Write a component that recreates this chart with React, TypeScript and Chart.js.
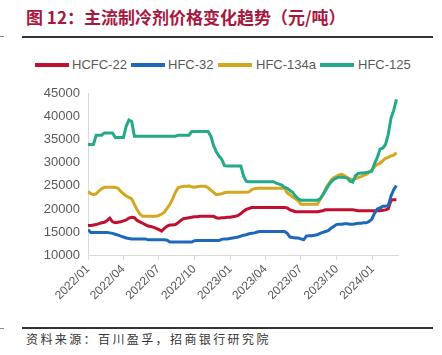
import { useEffect, useRef } from "react";
import { Chart, registerables } from "chart.js";

Chart.register(...registerables);

// ---- data ----
const startYear = 2022;
const weekStepDays = 7;
const tickLabels = ["2022/01", "2022/04", "2022/07", "2022/10", "2023/01", "2023/04", "2023/07", "2023/10", "2024/01"];
const seriesNames = ["HCFC-22", "HFC-32", "HFC-134a", "HFC-125"];
const seriesColors = ["#c00f2f", "#1e68bb", "#d4a71f", "#24a98a"];

const hcfc22 = [
  16400, 16400, 16500, 16600, 16800, 17000, 17100, 17500, 18000, 17200,
  17000, 17100, 17200, 17400, 17600, 18000, 18200, 18100, 17500, 17200,
  16900, 16600, 16300, 16200, 16000, 15800, 15500, 15200, 15800, 16300,
  16500, 16500, 16600, 17000, 17500, 17900, 18000, 18100, 18200, 18300,
  18300, 18400, 18400, 18400, 18400, 18400, 18400, 18100, 18000, 18100,
  18100, 18200, 18200, 18300, 18400, 18600, 19000, 19500, 19900, 20100,
  20300, 20300, 20300, 20300, 20300, 20300, 20300, 20300, 20300, 20300,
  20300, 20300, 20300, 20200, 19800, 19600, 19400, 19400, 19400, 19400,
  19400, 19400, 19400, 19400, 19400, 19500, 19600, 19800, 19800, 19800,
  19800, 19800, 19800, 19800, 19800, 19800, 19800, 19800, 19700, 19600,
  19600, 19600, 19600, 19600, 19600, 19600, 19600, 19600, 19700, 19800,
  20000, 21900, 22000, 22000,
];

const hfc32 = [
  15500, 14900, 14900, 14900, 14900, 14900, 14900, 14900, 14800, 14700,
  14500, 14300, 14100, 13900, 13700, 13600, 13500, 13500, 13500, 13500,
  13500, 13500, 13300, 13300, 13300, 13300, 13300, 13300, 13300, 13200,
  12800, 12800, 12800, 12800, 12800, 12800, 12800, 12800, 12800, 13100,
  13150, 13150, 13150, 13150, 13150, 13150, 13150, 13150, 13150, 13400,
  13500, 13500, 13600, 13700, 13800, 13900, 14100, 14300, 14400, 14600,
  14700, 14800, 15000, 15100, 15100, 15100, 15100, 15100, 15100, 15100,
  15100, 15100, 15100, 14700, 13900, 13800, 13700, 13700, 13500, 13300,
  14100, 14200, 14200, 14300, 14400, 14700, 14900, 15100, 15300, 15800,
  16200, 16600, 16700, 16700, 16800, 16800, 16700, 16700, 16800, 16900,
  16900, 17000, 17000, 17300, 17800, 19100, 20000, 20200, 20600, 20600,
  20700, 22800, 24200, 25100,
];

const hfc134a = [
  23800, 23300, 23100, 23300, 23900, 24400, 24700, 24700, 24700, 24700,
  24700, 24500, 23800, 23300, 22800, 22500, 22200, 21000, 19800, 18900,
  18400, 18400, 18400, 18400, 18400, 18400, 18600, 18900, 19300, 20200,
  21000, 22200, 23600, 24600, 24800, 24900, 24900, 25000, 24800, 24700,
  24800, 24900, 24900, 24900, 24600, 24100, 23600, 23100, 23200, 23300,
  23500, 23600, 23600, 23600, 23600, 23600, 23600, 23600, 23600, 23700,
  24200, 24400, 24500, 24500, 24500, 24500, 24500, 24500, 24500, 24500,
  24500, 24500, 24500, 23500, 23100, 22600, 22200, 21800, 21000, 21000,
  21000, 21000, 21000, 21000, 21000, 22000, 23000, 24300, 25300, 26200,
  26800, 27100, 27400, 27500, 27200, 26800, 26500, 26400, 26600, 26800,
  27000, 27300, 27500, 28000, 28500, 29200, 29700, 29900, 30500, 31000,
  31200, 31500, 31700, 32200,
];

const hfc125 = [
  34000, 34000, 34000, 36000, 36000, 36000, 36500, 36500, 36500, 36500,
  35500, 35500, 35500, 35500, 38000, 39300, 39000, 35800, 35800, 35800,
  35800, 35800, 35800, 35800, 35800, 35800, 35800, 35800, 35800, 35800,
  35800, 35800, 35800, 36000, 36000, 36000, 36000, 36000, 36800, 36800,
  36800, 36800, 36800, 36800, 36800, 35800, 33800, 32400, 31500, 30800,
  29400, 29300, 29300, 29300, 29300, 29300, 29300, 27100, 26000, 25900,
  25900, 25900, 25900, 25900, 25900, 25900, 25900, 25900, 25900, 25600,
  25400, 25200, 24700, 24500, 24000, 23600, 22800, 22200, 21900, 21900,
  21900, 21900, 21900, 21900, 21900, 22200, 23000, 24000, 25000, 25800,
  26400, 26700, 26900, 26900, 26800, 26700, 26000, 25800, 27200, 27700,
  27800, 27800, 27900, 28000, 28200, 29900, 31200, 33000, 33200, 34000,
  36200, 39700, 41400, 43800,
];

const seriesValues = [hcfc22, hfc32, hfc134a, hfc125];

const FONT = "'Liberation Sans', Arial, sans-serif";
const CJK = "'Noto Sans CJK SC', 'Noto Sans', sans-serif";
const GRAY = "#595959";

function dayOffset(label: string): number {
  const [y, m] = label.split("/").map(Number);
  return (Date.UTC(y, m - 1, 1) - Date.UTC(startYear, 0, 1)) / 86400000;
}

const legendPos = [
  { line: 35, text: 72 },
  { line: 131, text: 168 },
  { line: 218, text: 256 },
  { line: 320, text: 358 },
];

export default function App() {
  const ref = useRef<HTMLCanvasElement>(null);

  useEffect(() => {
    const tickDays = tickLabels.map(dayOffset);
    const chart = new Chart(ref.current!, {
      type: "line",
      data: {
        datasets: seriesValues.map((vals, k) => ({
          label: seriesNames[k],
          data: vals.map((v, i) => ({ x: i * weekStepDays, y: v })),
          borderColor: seriesColors[k],
          backgroundColor: seriesColors[k],
          borderWidth: 3,
          pointRadius: 0,
          tension: 0,
          order: seriesValues.length - k,
        })),
      },
      options: {
        responsive: false,
        animation: false,
        layout: { padding: { left: 0, right: 44, top: 10, bottom: 0 } },
        plugins: { legend: { display: false }, tooltip: { enabled: false } },
        scales: {
          x: {
            type: "linear",
            min: 0,
            max: 795,
            afterBuildTicks: (s: any) => {
              s.ticks = tickDays.map((v) => ({ value: v }));
            },
            afterFit: (s: any) => {
              s.height = 65;
            },
            ticks: {
              autoSkip: false,
              minRotation: 45,
              maxRotation: 45,
              padding: 2,
              color: GRAY,
              font: { family: FONT, size: 12 },
              callback: (v: any) => {
                const idx = tickDays.indexOf(Number(v));
                return idx >= 0 ? tickLabels[idx] : "";
              },
            },
            grid: { display: true, drawOnChartArea: false, drawTicks: true, tickLength: 5, color: "#d9d9d9" },
            border: { display: true, color: "#d9d9d9" },
          },
          y: {
            min: 10000,
            max: 45000,
            afterFit: (s: any) => {
              s.width = 88;
            },
            ticks: {
              stepSize: 5000,
              padding: 8,
              color: GRAY,
              font: { family: FONT, size: 13 },
              callback: (v: any) => String(v),
            },
            grid: { display: false, drawTicks: false },
            border: { display: true, color: "#d9d9d9" },
          },
        },
      },
    } as any);
    return () => chart.destroy();
  }, []);

  return (
    <div style={{ position: "absolute", left: 0, top: 0, width: 442, height: 355, background: "#fff", overflow: "hidden" }}>
      <div
        style={{
          position: "absolute",
          left: 26,
          top: 7,
          fontFamily: CJK,
          fontSize: 17,
          lineHeight: "20px",
          fontWeight: 700,
          color: "#a8173e",
          whiteSpace: "nowrap",
        }}
      >
        图 12：主流制冷剂价格变化趋势（元/吨）
      </div>
      <div style={{ position: "absolute", left: 0, top: 36, width: 4, height: 1, background: "#888" }} />
      <div style={{ position: "absolute", left: 22, top: 36, width: 411, height: 2, background: "#333" }} />

      {seriesNames.map((name, k) => (
        <div key={name}>
          <div
            style={{
              position: "absolute",
              left: legendPos[k].line,
              top: 63,
              width: 34,
              height: 4,
              background: seriesColors[k],
            }}
          />
          <div
            style={{
              position: "absolute",
              left: legendPos[k].text,
              top: 57,
              fontFamily: FONT,
              fontSize: 13,
              lineHeight: "16px",
              color: GRAY,
              whiteSpace: "nowrap",
            }}
          >
            {name}
          </div>
        </div>
      ))}

      <canvas
        ref={ref}
        width={442}
        height={242}
        style={{ position: "absolute", left: 0, top: 78, width: 442, height: 242 }}
      />

      <div style={{ position: "absolute", left: 0, top: 328, width: 4, height: 1, background: "#888" }} />
      <div style={{ position: "absolute", left: 22, top: 327, width: 411, height: 2, background: "#333" }} />
      <div
        style={{
          position: "absolute",
          left: 26,
          top: 331,
          fontFamily: CJK,
          fontSize: 12,
          lineHeight: "16px",
          letterSpacing: "2.4px",
          color: "#333",
          whiteSpace: "nowrap",
        }}
      >
        资料来源：百川盈孚，招商银行研究院
      </div>
    </div>
  );
}
